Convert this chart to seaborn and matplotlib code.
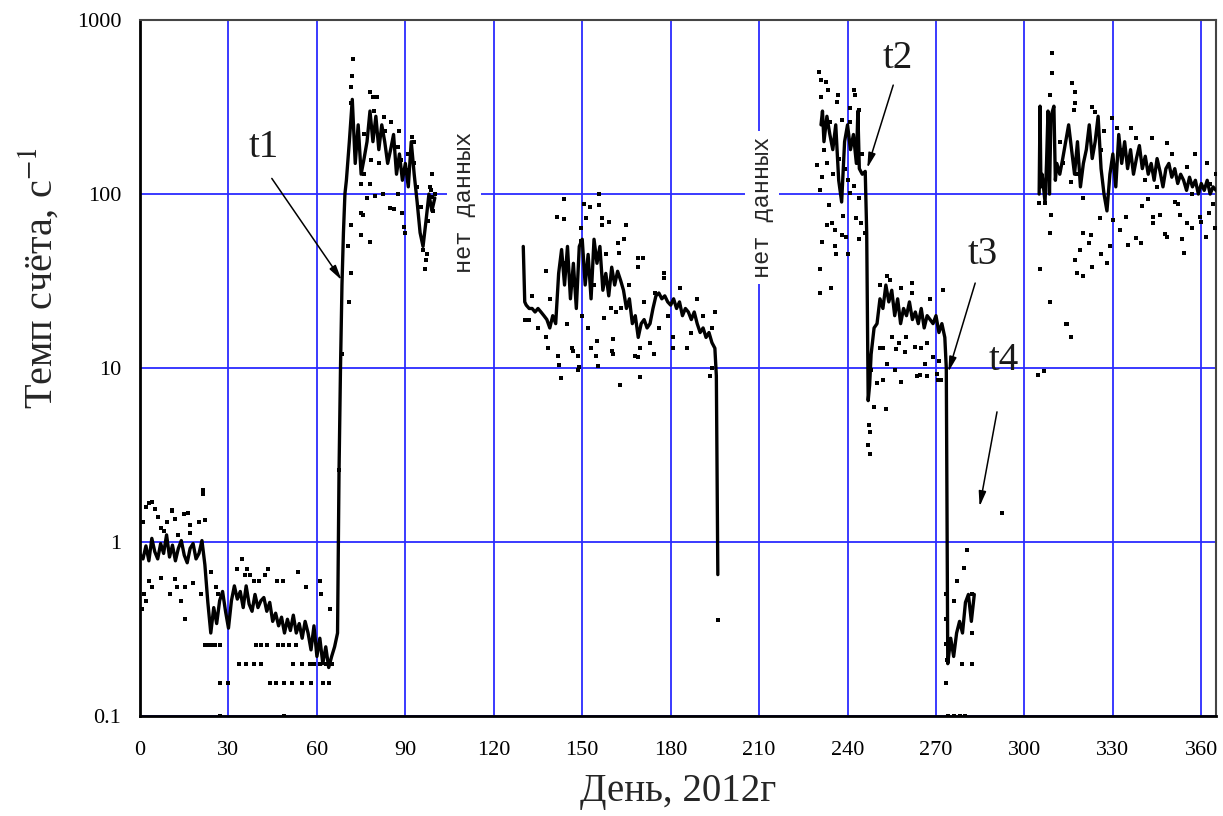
import matplotlib
matplotlib.use("Agg")
import matplotlib.pyplot as plt
import matplotlib.ticker as mticker
import pandas as pd
import seaborn as sns

# smoothed count rate (line), four observation periods
seg1_days = list(range(0, 67)) + [67, 67.5, 68, 68.5, 69, 69.5, 70, 71, 72] + list(range(73, 101))
seg1_vals = [
    0.85, 0.80, 0.95, 0.78, 1.05, 0.88, 0.80, 0.98, 0.86, 1.10,
    0.82, 0.96, 0.78, 0.92, 1.02, 0.84, 0.76, 0.92, 0.98, 0.80,
    0.86, 1.02, 0.74, 0.45, 0.30, 0.42, 0.34, 0.46, 0.52, 0.40,
    0.32, 0.46, 0.56, 0.47, 0.52, 0.42, 0.56, 0.44, 0.40, 0.50,
    0.42, 0.46, 0.48, 0.40, 0.45, 0.35, 0.39, 0.33, 0.37, 0.30,
    0.36, 0.31, 0.38, 0.30, 0.34, 0.28, 0.35, 0.30, 0.24, 0.33,
    0.22, 0.28, 0.20, 0.25, 0.19, 0.22, 0.25,
    0.30, 2.5, 10, 30, 60, 100, 120, 200, 350,
    150, 250, 130, 160, 200, 300, 200, 280, 180, 250, 200, 150, 180, 220,
    130, 170, 120, 150, 110, 200, 130, 90, 60, 50, 70, 100, 80, 95,
]

seg2_days = [130, 130.5] + list(range(131, 196)) + [195.5, 196]
seg2_vals = [
    50, 24,
    23, 22, 22, 21, 22, 21, 20, 19, 17, 20, 18,
    35, 48, 30, 50, 25, 40, 22, 50, 55, 30, 45, 25, 55, 40, 50, 28, 35, 26, 38, 30, 36, 32, 28,
    22, 25, 18, 20, 15, 18, 19, 17, 18, 22, 26, 27, 25, 26, 24, 23, 25, 22, 24, 20, 22, 21, 19,
    21, 18, 16, 17, 15, 16, 14, 13,
    9, 0.65,
]

seg3_days = ([231, 231.5] + list(range(232, 244)) + [243.5, 244, 245, 246, 246.5, 247, 247.5]
             + list(range(248, 274)) + [273.5] + list(range(274, 284)))
seg3_vals = [
    250, 300,
    200, 280, 220, 180, 250, 120, 90, 200, 250, 180, 220, 150,
    300, 140, 130, 135, 60, 6.5, 8,
    12, 17, 18, 25, 22, 30, 24, 28, 20, 25, 18, 22, 20, 24, 19, 21, 18, 22, 17, 20, 19, 18,
    20, 16, 18, 15,
    10,
    0.2, 0.28, 0.22, 0.3, 0.35, 0.3, 0.45, 0.5, 0.35, 0.5,
]

seg4_days = [305, 305.3, 305.6, 306, 307, 307.5, 308, 308.5, 309, 310, 310.5] + list(range(311, 366))
seg4_vals = [
    100, 320, 110, 130, 90, 150, 300, 100, 280, 320, 120,
    150, 130, 160, 200, 250, 180, 130, 200, 110, 150, 180, 250, 160, 200, 280,
    140, 100, 80, 130, 170, 110, 220, 150, 200, 140, 180, 130, 160, 190, 140,
    165, 130, 150, 120, 160, 135, 110, 140, 150, 125, 140, 115, 130, 120, 105,
    125, 110, 120, 100, 115, 105, 120, 100, 110, 105,
]

# individual measurements (dots)
dots1_days = [
    1, 2, 3, 4, 5, 6, 7, 9, 11, 12, 15, 17, 20, 21.5, 21.5, 22, 17, 10.8, 16.4, 8, 13,
    0.8, 1.3, 1.9, 4.1, 10.3, 11.9, 12.5, 14, 15.2, 15.2, 20.7, 3, 7, 18,
    24.2, 25.9, 26.5, 34.5, 32.8, 36.2, 35.5, 37.3, 43.5, 42.5, 38.5, 40.5, 46.3, 48.5,
    53.6, 56.4, 61, 61.5, 64.5,
    22, 23, 24.3, 25.5, 27, 39.5, 41, 43, 46.7, 48.5, 50.5, 53,
    33.5, 36, 38.5, 41, 52, 55, 57.5, 59, 61, 63, 65,
    27, 29.7, 44, 46, 49, 51.5, 55, 58, 62, 64,
    27, 49,
    72.4, 72, 71.5, 71.5, 78, 79, 80.5, 79.5, 82.8, 78.3, 75, 78, 77, 79.7, 82.5, 84.7,
    86, 75, 75.5, 71.5, 70.5, 71.5, 71, 75, 78, 87.5, 89, 90, 89.5, 87.5, 88.5, 90.6,
    92.3, 93, 95.4, 96, 97, 96.5, 97.5, 98.5, 99, 99.5, 98.8, 97.8, 68.5, 67.5,
    74, 76, 81, 83, 85, 88, 91, 93, 94, 99, 100, 76,
]
dots1_vals = [
    1.3, 1.6, 1.67, 1.7, 1.54, 1.4, 1.2, 1.3, 1.5, 1.36, 1.45, 1.25, 1.3, 2.0, 1.9, 1.33, 1.13, 1.52, 1.47, 1.15, 1.1,
    0.41, 0.5, 0.46, 0.55, 0.5, 0.61, 0.55, 0.46, 0.55, 0.36, 0.5, 0.6, 0.62, 0.58,
    0.67, 0.55, 0.5, 0.8, 0.7, 0.7, 0.65, 0.65, 0.7, 0.65, 0.6, 0.6, 0.6, 0.6,
    0.67, 0.55, 0.6, 0.5, 0.41,
    0.257, 0.257, 0.257, 0.257, 0.257, 0.257, 0.257, 0.257, 0.257, 0.257, 0.257, 0.257,
    0.2, 0.2, 0.2, 0.2, 0.2, 0.2, 0.2, 0.2, 0.2, 0.2, 0.2,
    0.155, 0.155, 0.155, 0.155, 0.155, 0.155, 0.155, 0.155, 0.155, 0.155,
    0.1, 0.1,
    600, 480, 414, 333, 388, 362, 360, 300, 278, 157, 115, 115, 95, 97, 100, 83,
    82, 78, 76, 66, 50, 35, 24, 58, 53, 100, 78, 60, 65, 186, 158, 137,
    213, 200, 84, 48, 42, 37, 45, 110, 96, 80, 105, 70, 12, 2.6,
    200, 220, 150, 230, 260, 230, 170, 150, 110, 130, 100, 130,
]

dots2_days = [
    143.7, 155.6, 150.6, 152.8, 155.6, 141.4, 143.7, 151.2, 149.5, 156.8, 159, 156.8,
    164.8, 164.2, 170.5, 137.7, 130.6, 132, 137.7, 138.3, 141.7, 142, 142.8, 146.5,
    147, 148.6, 149, 148.6, 153, 154.7, 155.3, 160.6, 162.8, 160.1, 160.6, 155,
    157.5, 159.8, 161.5, 167.8, 169.5, 169.5, 174.3, 176, 177.8, 177.8, 180.9, 180.9,
    185.5, 188.9, 195, 193.3, 193.9, 169, 149.6, 162, 162.5, 169, 169, 174.7, 196,
    133, 135, 139, 144, 145, 147, 150, 152, 154, 158, 163, 166, 171, 173, 179, 183,
    187, 191, 194,
]
dots2_vals = [
    94, 100, 88, 84, 86, 74, 72, 73, 64, 73, 69, 66,
    66, 55, 43, 36, 19, 19, 15, 13, 11.7, 10.4, 8.8, 13,
    12.5, 11.8, 10.2, 9.7, 13, 11.8, 10.3, 12, 8, 12.5, 14.6, 14.3,
    19.5, 22, 21, 11.8, 8.9, 13, 12, 17, 35, 33, 15, 13,
    13, 25, 21, 9, 10, 11.5, 54, 52, 46, 43, 38, 27, 0.356,
    26, 17, 25, 40, 18, 30, 20, 17, 30, 45, 22, 30, 24, 14, 20, 29,
    16, 20, 17,
]

dots3_days = [
    230.4, 231, 232.6, 233.3, 231, 236.8, 236.5, 242.3, 242.5, 243.8, 240.9, 238,
    229.7, 231.4, 230.8, 233.6, 233, 234.6, 235.7, 238, 239.6, 235.7, 231.4, 230.6,
    230.6, 234.4, 242.2, 241, 243, 244.6, 248, 249, 253, 247.4, 247.6, 247,
    247.7, 249.9, 251, 253.3, 256, 258.3, 256.6, 259.5, 263.5, 266.3, 270.8, 270.5,
    272.5, 261.7, 258.3, 253.3, 254.3, 251, 252, 257.6, 262.8, 266.8, 269,
    280.5, 279.4, 277.1, 276, 273.3, 273.3, 273.3, 273.8, 273.3, 278.9, 282.3, 282.3,
    282.3, 264.7, 271.6, 292.4, 274, 276, 278, 280,
    232, 233, 234, 235, 236, 237, 239, 240, 241, 244, 245, 238.5, 236, 240, 244, 246,
    255, 260, 265, 268, 257, 262, 252, 267, 271,
]
dots3_vals = [
    505, 452, 440, 396, 362, 370, 340, 396, 370, 304, 312, 266,
    147, 125, 105, 87, 66, 68, 62, 58, 57, 50, 53, 37,
    27, 29, 112, 101, 73, 68, 9.8, 6, 5.8, 4.7, 4.3, 3.6,
    3.2, 8.2, 13, 10.5, 9.8, 8.3, 12.8, 12.3, 9, 10.5, 8.5, 9.3,
    28, 31, 29, 34, 32, 30, 13, 14, 13.3, 14, 11.6,
    0.9, 0.71, 0.6, 0.46, 0.5, 0.36, 0.26, 0.21, 0.155, 0.2, 0.2, 0.3,
    0.5, 9.1, 8.5, 1.47, 0.1, 0.1, 0.1, 0.1,
    180, 150, 260, 130, 200, 160, 140, 120, 260, 95, 170, 75, 45, 45, 55, 60,
    15, 15, 13, 25, 22, 27, 8.5, 9, 11,
]

dots4_days = [
    309.4, 309.4, 308.8, 316, 317, 317, 316.7, 323, 324, 329.8, 331.5, 336,
    343.4, 348.5, 355, 362, 315.7, 305, 307, 309, 308.6, 305.3, 308.8, 314.5,
    315.7, 317, 318.7, 317.7, 319.9, 322.7, 321.8, 323, 325.5, 328, 329, 330,
    332.3, 334.5, 335, 337.8, 339.5, 342, 343.6, 343.6, 346, 347.8, 348.2, 352.8,
    353.4, 354, 355, 356.7, 359.5, 360, 361.5, 362.6, 364.8, 304.7, 306.5, 314,
    312, 313, 318, 320, 326, 327, 333, 338, 341, 345, 350, 351, 357, 358, 363, 365,
    320, 326, 340, 352, 364,
]
dots4_vals = [
    650, 495, 370, 434, 387, 333, 305, 317, 297, 272, 240, 240,
    210, 196, 143, 150, 118, 89, 89, 76, 60, 37, 24, 18,
    15, 42, 48, 35, 34, 58, 52, 38, 73, 40, 50, 71,
    62, 74, 51, 56, 52, 94, 74, 68, 76, 59, 57, 76,
    55, 46, 68, 64, 74, 69, 57, 78, 64, 9.1, 9.6, 18,
    200, 150, 130, 95, 180, 230, 180, 210, 120, 110, 170, 90, 100, 170, 115, 130,
    60, 45, 85, 88, 88,
]

x_ticks = [0, 30, 60, 90, 120, 150, 180, 210, 240, 270, 300, 330, 360]
y_ticks = [0.1, 1, 10, 100, 1000]
y_tick_labels = ["0.1", "1", "10", "100", "1000"]

# annotations: label, text position, arrow start, arrow tip (day, rate)
marks = [
    ("t1", (42, 184), (44.7, 123), (68.4, 32)),
    ("t2", (257, 600), (255.5, 423), (246.7, 141)),
    ("t3", (286, 45), (283.3, 30.8), (274.2, 9.5)),
    ("t4", (293, 11.1), (290.7, 5.6), (284.8, 1.6)),
]
gaps = [(110, 90), (211, 84)]

line = pd.concat([
    pd.DataFrame({"day": d, "rate": v, "segment": i})
    for i, (d, v) in enumerate([(seg1_days, seg1_vals), (seg2_days, seg2_vals),
                                (seg3_days, seg3_vals), (seg4_days, seg4_vals)])
])
dots = pd.DataFrame({
    "day": dots1_days + dots2_days + dots3_days + dots4_days,
    "rate": dots1_vals + dots2_vals + dots3_vals + dots4_vals,
})

sns.set_style("white")
plt.rcParams["font.family"] = ["Liberation Serif", "DejaVu Serif"]
plt.rcParams["mathtext.fontset"] = "stix"

fig = plt.figure(figsize=(12.23, 8.16), dpi=100)
ax = fig.add_axes([0.1145, 0.1225, 0.8798, 0.8529])

sns.scatterplot(data=dots, x="day", y="rate", marker="s", s=11, color="black",
                linewidth=0, ax=ax, zorder=3)
sns.lineplot(data=line, x="day", y="rate", units="segment", estimator=None,
             color="black", lw=2.4, ax=ax, zorder=4)

ax.set_yscale("log")
ax.set_xlim(0, 365)
ax.set_ylim(0.1, 1000)
ax.set_xticks(x_ticks)
ax.set_xticklabels([str(t) for t in x_ticks])
ax.xaxis.set_minor_locator(mticker.MultipleLocator(15))
ax.set_yticks(y_ticks)
ax.set_yticklabels(y_tick_labels)
ax.yaxis.set_minor_locator(mticker.LogLocator(base=10, subs=range(2, 10)))
ax.yaxis.set_minor_formatter(mticker.NullFormatter())

ax.grid(True, which="major", color="#2b2bff", lw=1.3)
ax.tick_params(axis="both", which="major", direction="out", length=10, width=1.6,
               labelsize=16, colors="black")
ax.tick_params(axis="both", which="minor", direction="out", length=6, width=1.4)
ax.tick_params(axis="x", which="major", pad=8)
for side in ["left", "bottom"]:
    ax.spines[side].set_linewidth(2)
    ax.spines[side].set_color("black")
for side in ["top", "right"]:
    ax.spines[side].set_linewidth(1.5)
    ax.spines[side].set_color("#444444")

ax.set_xlabel("День, 2012г", fontsize=28)
ax.xaxis.set_label_coords(0.5, -0.082)
ax.set_ylabel("Темп счёта, с$^{-1}$", fontsize=29)
ax.yaxis.set_label_coords(-0.074, 0.63)

for label, txt, start, tip in marks:
    ax.text(txt[0], txt[1], label, fontsize=28, ha="center", va="center",
            color="#1a1a1a", zorder=6)
    ax.annotate("", xy=tip, xytext=start,
                arrowprops=dict(arrowstyle="-|>,head_length=0.9,head_width=0.22",
                                color="black", lw=1.1, shrinkA=0, shrinkB=0),
                zorder=6)

for gx, gy in gaps:
    ax.text(gx, gy, "нет данных", rotation=90, fontsize=17, ha="center", va="center",
            family="Liberation Mono", zorder=5,
            bbox=dict(facecolor="white", edgecolor="none", pad=4))

fig.savefig("out.png", dpi=100)
